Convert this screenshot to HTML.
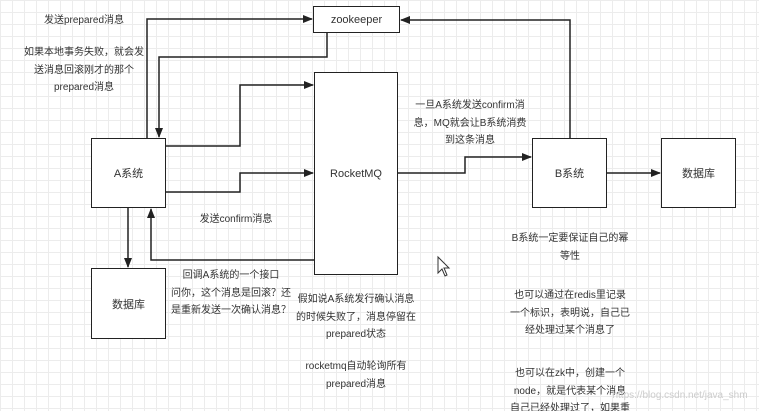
<!DOCTYPE html>
<html><head><meta charset="utf-8"><style>
body{margin:0;}
#c{position:relative;width:759px;height:411px;overflow:hidden;background-color:#fff;
background-image:linear-gradient(#ececec 1px,transparent 1px),linear-gradient(90deg,#ececec 1px,transparent 1px);background-size:12px 12px;
font-family:"Liberation Sans","Noto Sans CJK SC",sans-serif;font-size:10px;color:#333;}
.b{position:absolute;border:1.5px solid #222;background:#fff;box-sizing:border-box;display:flex;align-items:center;justify-content:center;font-size:11px;}
.t{position:absolute;text-align:center;line-height:17.5px;white-space:nowrap;transform:translateX(-50%);}
svg{position:absolute;left:0;top:0;}
</style></head><body><div id="c">
<svg width="759" height="411">
<defs><marker id="a" markerWidth="10" markerHeight="8" refX="9" refY="4" orient="auto" markerUnits="userSpaceOnUse"><path d="M0,0L10,4L0,8z" fill="#222"/></marker></defs>
<g fill="none" stroke="#222" stroke-width="1.5">
<polyline points="147,138 147,19 312,19" marker-end="url(#a)"/>
<polyline points="327,33 327,57 159,57 159,137" marker-end="url(#a)"/>
<polyline points="166,146 240,146 240,85 313,85" marker-end="url(#a)"/>
<polyline points="166,192 240,192 240,173 313,173" marker-end="url(#a)"/>
<polyline points="570,138 570,20 401,20" marker-end="url(#a)"/>
<polyline points="398,173 465,173 465,157 531,157" marker-end="url(#a)"/>
<polyline points="607,173 660,173" marker-end="url(#a)"/>
<polyline points="128,208 128,267" marker-end="url(#a)"/>
<polyline points="315,260 151,260 151,209" marker-end="url(#a)"/>
</g>
<path d="M438,257 L438,273 L442,269 L445,276 L447,275 L444,268 L449,268 Z" fill="#fff" stroke="#333" stroke-width="1"/>
</svg>
<div class="b" style="left:313px;top:6px;width:87px;height:27px;">zookeeper</div>
<div class="b" style="left:91px;top:138px;width:75px;height:70px;">A系统</div>
<div class="b" style="left:314px;top:72px;width:84px;height:203px;">RocketMQ</div>
<div class="b" style="left:532px;top:138px;width:75px;height:70px;">B系统</div>
<div class="b" style="left:661px;top:138px;width:75px;height:70px;">数据库</div>
<div class="b" style="left:91px;top:268px;width:75px;height:71px;">数据库</div>
<div class="t" style="left:84px;top:12px;">发送prepared消息</div>
<div class="t" style="left:84px;top:44px;">如果本地事务失败，就会发<br>送消息回滚刚才的那个<br>prepared消息</div>
<div class="t" style="left:236px;top:211px;">发送confirm消息</div>
<div class="t" style="left:470px;top:97px;">一旦A系统发送confirm消<br>息，MQ就会让B系统消费<br>到这条消息</div>
<div class="t" style="left:231px;top:267px;">回调A系统的一个接口<br>问你，这个消息是回滚？还<br>是重新发送一次确认消息？</div>
<div class="t" style="left:356px;top:291px;">假如说A系统发行确认消息<br>的时候失败了，消息停留在<br>prepared状态</div>
<div class="t" style="left:356px;top:358px;">rocketmq自动轮询所有<br>prepared消息</div>
<div class="t" style="left:570px;top:230px;">B系统一定要保证自己的幂<br>等性</div>
<div class="t" style="left:570px;top:287px;">也可以通过在redis里记录<br>一个标识，表明说，自己已<br>经处理过某个消息了</div>
<div class="t" style="left:570px;top:365px;">也可以在zk中，创建一个<br>node，就是代表某个消息<br>自己已经处理过了，如果重</div>
<div class="t" style="left:680px;top:387px;color:#ccc;">https://blog.csdn.net/java_shm</div>
</div></body></html>
